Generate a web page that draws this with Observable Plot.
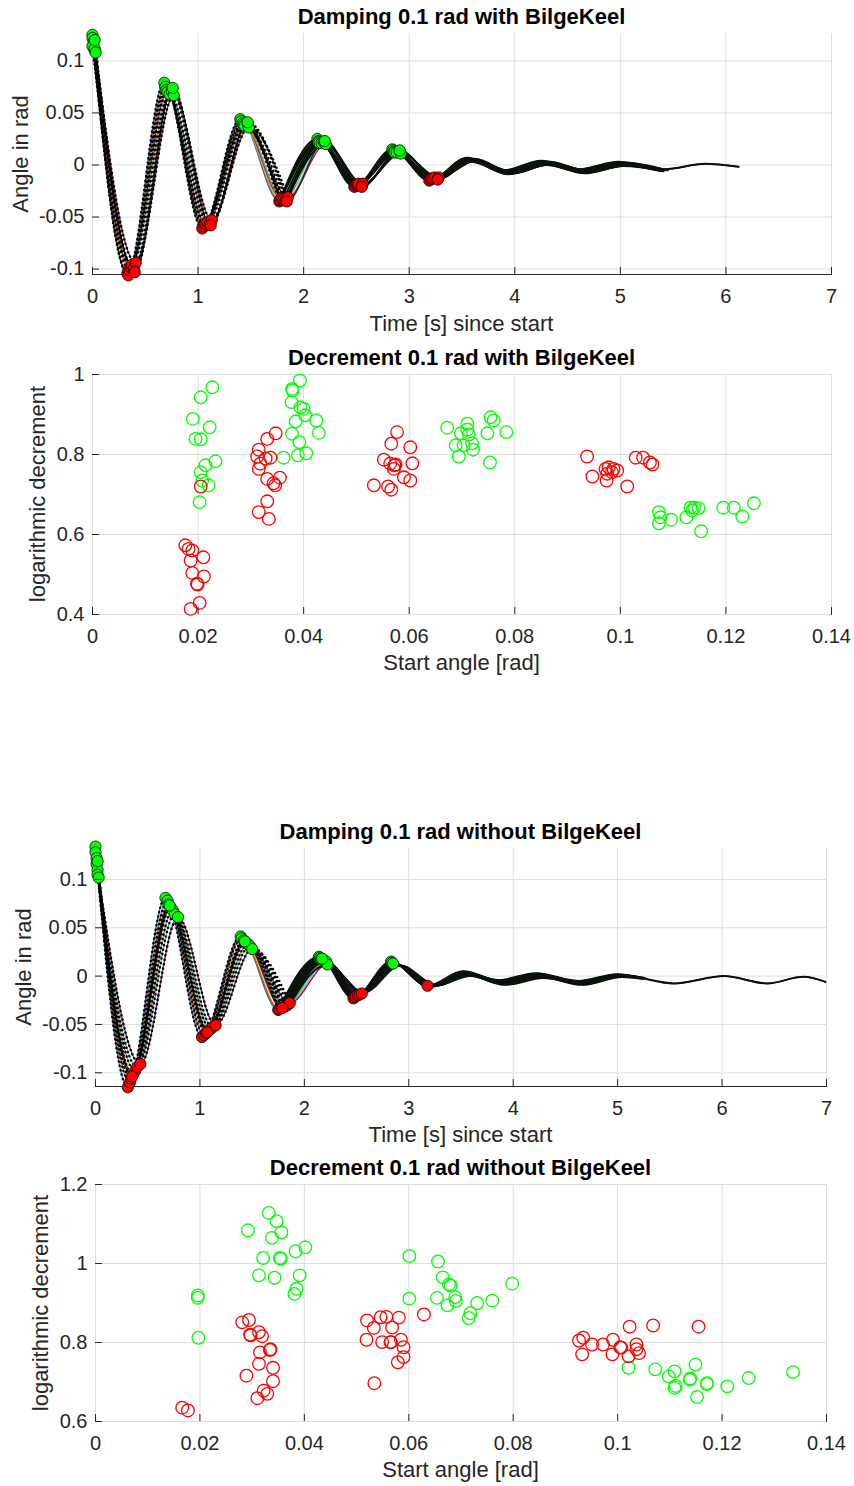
<!DOCTYPE html>
<html><head><meta charset="utf-8">
<script src="https://cdn.jsdelivr.net/npm/d3@7"></script>
<script src="https://cdn.jsdelivr.net/npm/@observablehq/plot@0.6"></script>
<style>
html,body{margin:0;padding:0;background:#fff;}
#page{position:relative;width:854px;height:1486px;overflow:hidden;font-family:"Liberation Sans",Arial,Helvetica,sans-serif;color:#262626;background:#fff;}
.txt{position:absolute;white-space:nowrap;line-height:1;}
</style></head><body><div id="page"></div>
<script>
// ---------- tick values ----------
const timeTicks = [0, 1, 2, 3, 4, 5, 6, 7];
const angleTicks = [-0.1, -0.05, 0, 0.05, 0.1];
const startTicks = [0, 0.02, 0.04, 0.06, 0.08, 0.1, 0.12, 0.14];
const decTicksWith = [0.4, 0.6, 0.8, 1];
const decTicksWithout = [0.6, 0.8, 1, 1.2];

// ---------- time series: extrema of each run (with BilgeKeel) ----------
const withTimes = [
  [0.00,0.33,0.68,1.04,1.40,1.77,2.13,2.48,2.84,3.19,3.55,3.90,4.25,4.61,4.98,5.33],
  [0.00,0.34,0.69,1.05,1.41,1.78,2.14,2.49,2.85,3.20,3.56,3.91,4.26,4.62,4.99,5.35],
  [0.01,0.35,0.70,1.06,1.42,1.78,2.14,2.50,2.86,3.21,3.56,3.92,4.27,4.63,5.00,5.37],
  [0.00,0.36,0.71,1.07,1.43,1.79,2.15,2.51,2.86,3.22,3.57,3.93,4.28,4.64,5.01,5.39],
  [0.02,0.37,0.73,1.09,1.44,1.81,2.17,2.52,2.88,3.24,3.59,3.94,4.30,4.66,5.03,5.41],
  [0.02,0.39,0.75,1.11,1.47,1.83,2.19,2.55,2.91,3.27,3.62,3.97,4.33,4.69,5.06,5.44],
  [0.03,0.41,0.77,1.13,1.48,1.85,2.21,2.56,2.92,3.28,3.63,3.99,4.34,4.70,5.07,5.45],
  [0.02,0.40,0.76,1.12,1.47,1.84,2.20,2.55,2.91,3.27,3.61,3.96,4.32,4.68,5.04,5.42,5.80,6.12]
];
const withAngles = [
  [0.125,-0.104,0.079,-0.061,0.044,-0.035,0.025,-0.021,0.015,-0.015,0.007,-0.005,0.004,-0.004,0.003,-0.003],
  [0.122,-0.106,0.075,-0.059,0.042,-0.034,0.023,-0.020,0.014,-0.014,0.006,-0.006,0.003,-0.005,0.002,-0.004],
  [0.118,-0.101,0.072,-0.057,0.040,-0.033,0.022,-0.019,0.013,-0.013,0.005,-0.007,0.002,-0.006,0.001,-0.005],
  [0.114,-0.098,0.070,-0.056,0.039,-0.032,0.021,-0.019,0.012,-0.013,0.004,-0.008,0.001,-0.007,0.000,-0.006],
  [0.110,-0.096,0.068,-0.055,0.038,-0.033,0.021,-0.018,0.012,-0.012,0.003,-0.009,0.000,-0.008,-0.001,-0.006],
  [0.112,-0.099,0.071,-0.057,0.040,-0.034,0.022,-0.020,0.013,-0.013,0.006,-0.007,0.003,-0.006,0.002,-0.005],
  [0.108,-0.094,0.067,-0.053,0.036,-0.031,0.020,-0.018,0.011,-0.012,0.004,-0.008,0.001,-0.007,0.000,-0.005],
  [0.120,-0.103,0.074,-0.058,0.041,-0.035,0.023,-0.021,0.014,-0.014,0.005,-0.006,0.002,-0.005,0.001,-0.004,0.0012,-0.0017]
];
const withMarked = [10, 10, 10, 10, 10, 10, 10, 10];

// ---------- time series: extrema of each run (without BilgeKeel) ----------
const withoutTimes = [
  [0.00,0.31,0.67,1.02,1.39,1.75,2.14,2.47,2.83,3.18,3.52,3.86,4.22,4.62,5.00,5.20],
  [0.00,0.33,0.69,1.04,1.40,1.76,2.15,2.48,2.84,3.19,3.54,3.87,4.24,4.63,5.01,5.21],
  [0.01,0.34,0.70,1.06,1.42,1.78,2.16,2.49,2.85,3.20,3.55,3.88,4.25,4.64,5.02,5.22],
  [0.01,0.36,0.72,1.08,1.44,1.80,2.18,2.51,2.87,3.22,3.56,3.89,4.26,4.65,5.03,5.23],
  [0.02,0.38,0.74,1.10,1.46,1.82,2.19,2.53,2.88,3.23,3.57,3.90,4.27,4.66,5.04,5.24],
  [0.02,0.40,0.76,1.12,1.48,1.84,2.21,2.55,2.90,3.25,3.59,3.92,4.29,4.67,5.05,5.25],
  [0.03,0.43,0.79,1.15,1.50,1.86,2.22,2.57,2.92,3.27,3.60,3.93,4.30,4.68,5.06,5.26],
  [0.02,0.35,0.71,1.07,1.43,1.79,2.17,2.50,2.86,3.21,3.56,3.88,4.26,4.645,5.03,5.54,6.02,6.43,6.78,6.99]
];
const withoutAngles = [
  [0.134,-0.115,0.081,-0.063,0.041,-0.035,0.020,-0.023,0.015,-0.010,0.005,-0.004,0.003,-0.005,0.002,-0.001],
  [0.128,-0.110,0.078,-0.061,0.039,-0.034,0.019,-0.022,0.014,-0.011,0.004,-0.005,0.002,-0.006,0.001,-0.002],
  [0.122,-0.106,0.074,-0.059,0.037,-0.033,0.018,-0.021,0.013,-0.010,0.003,-0.006,0.001,-0.007,0.001,-0.002],
  [0.116,-0.102,0.071,-0.057,0.035,-0.032,0.017,-0.020,0.012,-0.011,0.002,-0.007,0.000,-0.008,0.000,-0.002],
  [0.110,-0.098,0.068,-0.055,0.033,-0.031,0.016,-0.019,0.012,-0.010,0.001,-0.008,-0.001,-0.009,-0.001,-0.003],
  [0.105,-0.094,0.064,-0.053,0.031,-0.030,0.015,-0.018,0.011,-0.010,0.000,-0.009,-0.002,-0.008,0.000,-0.002],
  [0.102,-0.091,0.061,-0.051,0.028,-0.028,0.012,-0.017,0.011,-0.010,0.002,-0.008,0.000,-0.007,0.001,-0.002],
  [0.119,-0.104,0.073,-0.058,0.036,-0.033,0.018,-0.021,0.013,-0.010,0.003,-0.0076,0.001,-0.0076,0.001,-0.0076,0.000,-0.0076,-0.0007,-0.006]
];
const withoutMarked = [10, 9, 9, 8, 8, 8, 7, 7];

// ---------- decrement scatter (with BilgeKeel) ----------
const withGreenX = [0.0227,0.0205,0.0190,0.0222,0.0195,0.0205,0.0233,0.0214,0.0205,0.0208,0.0220,0.0203,
  0.0393,0.0378,0.0379,0.0377,0.0394,0.0400,0.0403,0.0424,0.0385,0.0429,0.0378,0.0392,0.0405,0.0389,0.0362,
  0.0672,0.0710,0.0698,0.0710,0.0713,0.0754,0.0760,0.0748,0.0784,0.0688,0.0703,0.0719,0.0721,0.0694,0.0753,
  0.1073,0.1076,0.1073,0.1096,0.1125,0.1133,0.1140,0.1148,0.1136,0.1153,0.1195,0.1215,0.1231,0.1253];
const withGreenY = [0.968,0.943,0.889,0.868,0.839,0.838,0.783,0.773,0.756,0.735,0.723,0.681,
  0.985,0.964,0.960,0.931,0.918,0.914,0.898,0.885,0.883,0.854,0.852,0.831,0.803,0.798,0.792,
  0.867,0.877,0.853,0.862,0.850,0.893,0.885,0.853,0.856,0.823,0.823,0.828,0.812,0.795,0.780,
  0.656,0.643,0.628,0.637,0.643,0.667,0.667,0.666,0.660,0.608,0.667,0.667,0.645,0.678];
const withRedX = [0.0176,0.0182,0.0189,0.0210,0.0186,0.0189,0.0211,0.0198,0.0199,0.0203,0.0186,0.0205,
  0.0347,0.0331,0.0315,0.0312,0.0337,0.0328,0.0318,0.0315,0.0331,0.0355,0.0343,0.0346,0.0331,0.0315,0.0334,
  0.0577,0.0566,0.0602,0.0552,0.0606,0.0564,0.0572,0.0574,0.0571,0.0590,0.0602,0.0533,0.0560,0.0566,
  0.0937,0.0947,0.0972,0.0978,0.0987,0.0975,0.0984,0.0974,0.0994,0.1013,0.1029,0.1043,0.1056,0.1061];
const withRedY = [0.573,0.564,0.560,0.543,0.535,0.504,0.495,0.477,0.475,0.429,0.414,0.720,
  0.853,0.839,0.812,0.795,0.792,0.790,0.777,0.764,0.739,0.742,0.728,0.723,0.683,0.656,0.639,
  0.856,0.827,0.818,0.787,0.778,0.777,0.773,0.775,0.764,0.743,0.735,0.723,0.720,0.712,
  0.795,0.745,0.764,0.768,0.764,0.752,0.756,0.735,0.760,0.720,0.792,0.792,0.780,0.775];

// ---------- decrement scatter (without BilgeKeel) ----------
const withoutGreenX = [0.0196,0.0196,0.0197,
  0.0332,0.0292,0.0347,0.0356,0.0338,0.0402,0.0383,0.0321,0.0353,0.0355,0.0313,0.0343,0.0391,0.0385,0.0381,
  0.0601,0.0601,0.0656,0.0665,0.0677,0.0680,0.0689,0.0674,0.0690,0.0731,0.0760,0.0798,0.0718,0.0715,0.0654,
  0.1021,0.1072,0.1098,0.1109,0.1109,0.1111,0.1138,0.1139,0.1149,0.1171,0.1171,0.1152,0.1210,0.1251,0.1336];
const withoutGreenY = [0.919,0.913,0.812,
  1.128,1.084,1.107,1.079,1.065,1.041,1.031,1.014,1.014,1.012,0.970,0.964,0.970,0.936,0.923,
  1.019,0.911,1.005,0.965,0.947,0.944,0.915,0.894,0.905,0.900,0.906,0.949,0.874,0.862,0.913,
  0.736,0.732,0.714,0.727,0.685,0.690,0.706,0.709,0.744,0.697,0.695,0.662,0.689,0.710,0.725];
const withoutRedX = [0.0166,0.0177,
  0.0281,0.0294,0.0296,0.0297,0.0313,0.0319,0.0315,0.0334,0.0335,0.0313,0.0340,0.0289,0.0340,0.0322,0.0329,0.0310,
  0.0520,0.0546,0.0557,0.0581,0.0533,0.0568,0.0519,0.0549,0.0565,0.0566,0.0585,0.0590,0.0590,0.0579,0.0534,0.0629,
  0.0926,0.0934,0.0932,0.0951,0.0972,0.0991,0.0990,0.1005,0.1007,0.1021,0.1036,0.1036,0.1041,0.1023,0.1068,0.1155];
const withoutRedY = [0.635,0.628,
  0.851,0.857,0.820,0.818,0.826,0.816,0.775,0.781,0.783,0.746,0.736,0.716,0.702,0.678,0.670,0.659,
  0.856,0.864,0.865,0.863,0.837,0.838,0.807,0.801,0.801,0.801,0.807,0.788,0.763,0.750,0.697,0.871,
  0.805,0.812,0.770,0.795,0.795,0.807,0.770,0.788,0.787,0.765,0.795,0.783,0.773,0.840,0.843,0.840];

// ---------- styling ----------
const lineColors = ["#0072BD","#D95319","#EDB120","#7E2F8E","#77AC30","#4DBEEE","#A2142F","#222222"];
const FONT = '"Liberation Sans", Arial, Helvetica, sans-serif';
const page = document.getElementById("page");
const fmt = d => String(Math.round(d * 1000) / 1000);

function panel({top, height, mt, mb, ml, mr, xDomain, yDomain, xTicks, yTicks, marks}) {
  const frameW = 854 - ml - mr, frameH = height - mt - mb;
  const svg = Plot.plot({
    width: 854, height,
    marginTop: mt, marginBottom: mb, marginLeft: ml, marginRight: mr,
    style: {fontFamily: FONT, fontSize: "20px", color: "#262626", background: "transparent", overflow: "visible"},
    x: {domain: xDomain, ticks: xTicks, tickFormat: fmt, tickSize: 0, tickPadding: 14, label: null, line: true},
    y: {domain: yDomain, ticks: yTicks, tickFormat: fmt, tickSize: 0, tickPadding: 8, label: null, line: true},
    marks: [
      Plot.ruleX(xTicks, {stroke: "#dedede"}),
      Plot.ruleY(yTicks, {stroke: "#dedede"}),
      ...marks,
      Plot.ruleX(xTicks, {stroke: "#262626", insetTop: frameH - 7}),
      Plot.ruleY(yTicks, {stroke: "#262626", insetRight: frameW - 7})
    ]
  });
  svg.style.position = "absolute";
  svg.style.left = "0px";
  svg.style.top = top + "px";
  page.appendChild(svg);
}

function timeMarks(times, angles, marked) {
  const runs = times.map((ts, i) => ts.map((t, j) => ({run: i, t, a: angles[i][j], k: j})));
  const peaks = runs.flatMap((r, i) => r.filter(d => d.k < marked[i]));
  const marks = [];
  runs.forEach((r, i) => {
    marks.push(Plot.line(r, {x: "t", y: "a", stroke: lineColors[i], strokeWidth: 1.4, curve: "monotone-x"}));
  });
  runs.forEach((r) => {
    // fast early swings: sparse sample dots; slow later swings: dots merge into a solid dark line
    marks.push(Plot.line(r.filter(d => d.k <= 5), {x: "t", y: "a", stroke: "#000", strokeWidth: 2.6, strokeDasharray: "0 4.5", strokeLinecap: "round", curve: "monotone-x"}));
    marks.push(Plot.line(r.filter(d => d.k >= 5), {x: "t", y: "a", stroke: "#0a120a", strokeWidth: 2.0, curve: "monotone-x"}));
  });
  marks.push(Plot.dot(peaks.filter(d => d.a > 0), {x: "t", y: "a", r: 5.6, fill: "#00ff00", stroke: "#102010", strokeWidth: 0.9}));
  marks.push(Plot.dot(peaks.filter(d => d.a < 0), {x: "t", y: "a", r: 5.6, fill: "#ff0000", stroke: "#200808", strokeWidth: 0.9}));
  return marks;
}

function scatterMarks(gx, gy, rx, ry) {
  const green = gx.map((x, i) => ({x, y: gy[i]}));
  const red = rx.map((x, i) => ({x, y: ry[i]}));
  return [
    Plot.dot(green, {x: "x", y: "y", r: 6.3, stroke: "#00ff00", strokeWidth: 1.3, fill: "none"}),
    Plot.dot(red, {x: "x", y: "y", r: 6.3, stroke: "#ff0000", strokeWidth: 1.3, fill: "none"})
  ];
}

function text(str, x, baseline, {size = 22, weight = "normal", color = "#262626", rotate = false} = {}) {
  const d = document.createElement("div");
  d.className = "txt";
  d.textContent = str;
  d.style.fontSize = size + "px";
  d.style.fontWeight = weight;
  d.style.color = color;
  d.style.fontFamily = FONT;
  if (rotate) {
    d.style.left = x + "px";
    d.style.top = baseline + "px";
    d.style.transformOrigin = "0 0";
    d.style.transform = "rotate(-90deg) translate(-50%, -0.8465em)";
  } else {
    d.style.left = x + "px";
    d.style.top = (baseline - 0.8465 * size) + "px";
    d.style.transform = "translateX(-50%)";
  }
  page.appendChild(d);
}

// Panel 1: damping with bilge keel
panel({top: 0, height: 310, mt: 33, mb: 36, ml: 92, mr: 23,
  xDomain: [0, 7], yDomain: [-0.1052, 0.1263], xTicks: timeTicks, yTicks: angleTicks,
  marks: timeMarks(withTimes, withAngles, withMarked)});
// Panel 2: decrement with bilge keel
panel({top: 340, height: 310, mt: 34, mb: 36, ml: 92, mr: 23,
  xDomain: [0, 0.14], yDomain: [0.4, 1], xTicks: startTicks, yTicks: decTicksWith,
  marks: scatterMarks(withGreenX, withGreenY, withRedX, withRedY)});
// Panel 3: damping without bilge keel
panel({top: 810, height: 310, mt: 38, mb: 34, ml: 95, mr: 28,
  xDomain: [0, 7], yDomain: [-0.1142, 0.132], xTicks: timeTicks, yTicks: angleTicks,
  marks: timeMarks(withoutTimes, withoutAngles, withoutMarked)});
// Panel 4: decrement without bilge keel
panel({top: 1150, height: 310, mt: 34, mb: 39, ml: 95, mr: 28,
  xDomain: [0, 0.14], yDomain: [0.6, 1.2], xTicks: startTicks, yTicks: decTicksWithout,
  marks: scatterMarks(withoutGreenX, withoutGreenY, withoutRedX, withoutRedY)});

// Titles and axis labels
text("Damping 0.1 rad with BilgeKeel", 461.5, 25, {weight: "bold", color: "#000"});
text("Time [s] since start", 461.5, 332);
text("Angle in rad", 29, 153.5, {rotate: true});

text("Decrement 0.1 rad with BilgeKeel", 461.5, 366, {weight: "bold", color: "#000"});
text("Start angle [rad]", 461.5, 671);
text("logarithmic decrement", 46, 494, {rotate: true});

text("Damping 0.1 rad without BilgeKeel", 460.5, 840, {weight: "bold", color: "#000"});
text("Time [s] since start", 460.5, 1143);
text("Angle in rad", 32, 967, {rotate: true});

text("Decrement 0.1 rad without BilgeKeel", 460.5, 1176, {weight: "bold", color: "#000"});
text("Start angle [rad]", 460.5, 1478);
text("logarithmic decrement", 49, 1302.5, {rotate: true});
</script></body></html>
